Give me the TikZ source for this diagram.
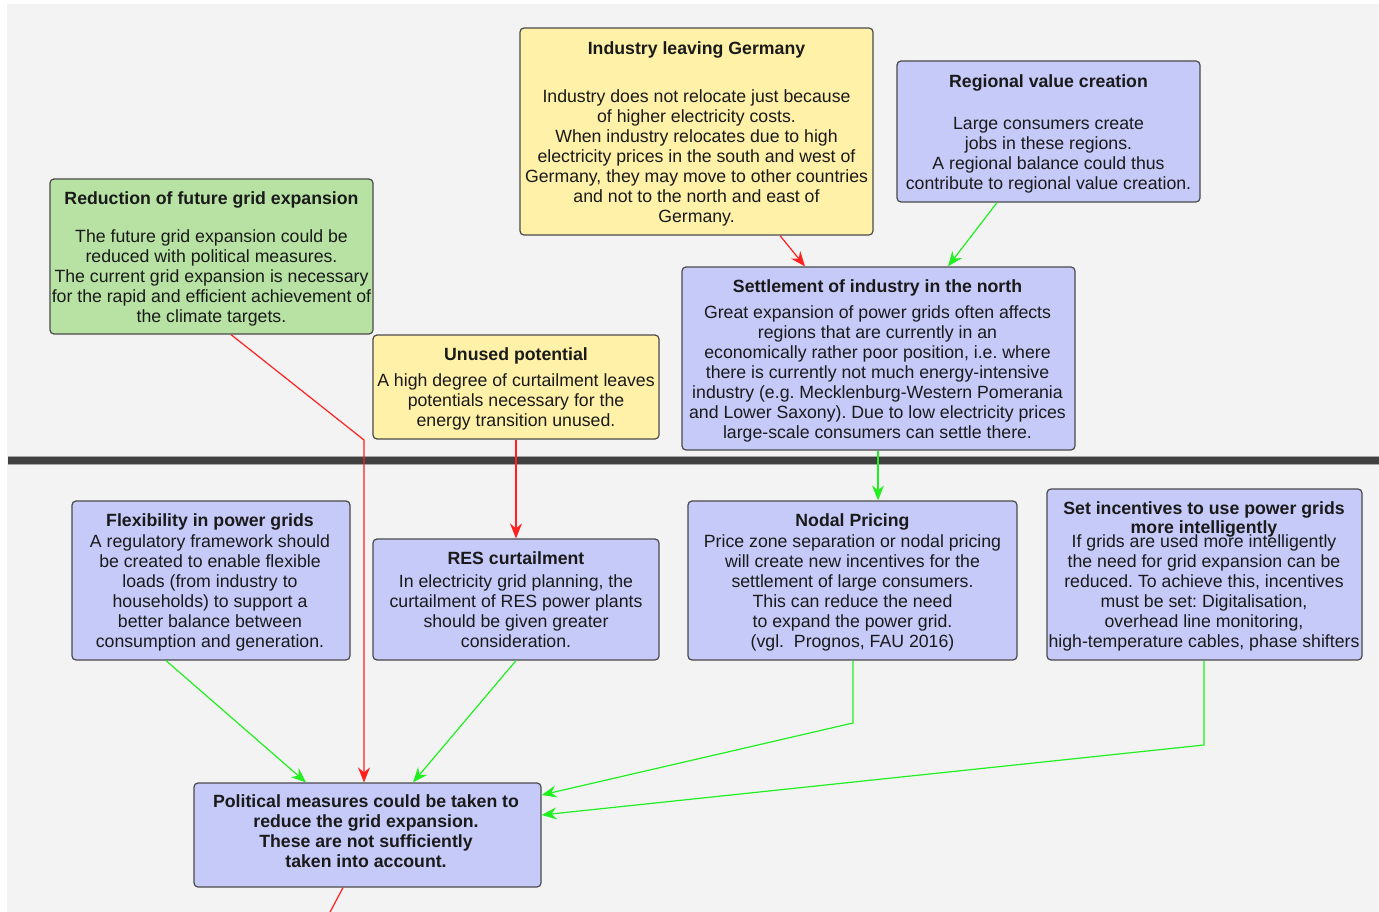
\documentclass[tikz,border=0pt]{standalone}
\usepackage{fontspec}
\setmainfont{Liberation Sans}
\usetikzlibrary{arrows.meta,calc}
\frenchspacing
\definecolor{bggray}{HTML}{F3F3F3}
\definecolor{boxgreen}{HTML}{B8E2A3}
\definecolor{boxyellow}{HTML}{FFF1A8}
\definecolor{boxblue}{HTML}{C6CAF8}
\definecolor{boxline}{HTML}{4A4A4A}
\definecolor{bar}{HTML}{404040}
\definecolor{txt}{HTML}{1A1A1A}
\definecolor{redline}{HTML}{FF2020}
\definecolor{greenline}{HTML}{20F020}
\tikzset{
  box/.style={draw=boxline, line width=1.2pt, rounded corners=4pt, inner sep=0pt},
  gbox/.style={box, fill=boxgreen},
  ybox/.style={box, fill=boxyellow},
  bbox/.style={box, fill=boxblue},
  btext/.style={inner sep=0pt, align=center, text=txt, font=\fontsize{17.7}{20}\selectfont\frenchspacing},
  tip/.style={-{Stealth[length=15pt,width=12pt,inset=5pt]}},
  redc/.style={draw=redline, line width=1.2pt},
  greenc/.style={draw=greenline, line width=1.2pt},
}
\begin{document}
\begin{tikzpicture}[x=1pt,y=-1pt]
\useasboundingbox (0,0) rectangle (1379,912);
\fill[white] (0,0) rectangle (1379,912);
\fill[bggray] (7,4) rectangle (1379,912);
\fill[bar] (8,457) rectangle (1379,464);
\draw[gray!70, line width=0.6pt] (8,456.5) -- (1379,456.5) (8,464.5) -- (1379,464.5);

\node[gbox, minimum width=323pt, minimum height=155pt] (red) at (211.5,256.5) {};
\node[btext] (redt) at (211.5,258.5)
 {\textbf{Reduction of future grid expansion}\\[18pt]
  The future grid expansion could be\\
  reduced with political measures.\\
  The current grid expansion is necessary\\
  for the rapid and efficient achievement of\\
  the climate targets.};

\node[ybox, minimum width=353pt, minimum height=207pt] (ind) at (696.5,131.5) {};
\node[btext] (indt) at (696.5,133.5)
 {\textbf{Industry leaving Germany}\\[28pt]
  Industry does not relocate just because\\
  of higher electricity costs.\\
  When industry relocates due to high\\
  electricity prices in the south and west of\\
  Germany, they may move to other countries\\
  and not to the north and east of\\
  Germany.};

\node[bbox, minimum width=303pt, minimum height=141pt] (reg) at (1048.5,131.5) {};
\node[btext] (regt) at (1048.5,133.5)
 {\textbf{Regional value creation}\\[22pt]
  Large consumers create\\
  jobs in these regions.\\
  A regional balance could thus\\
  contribute to regional value creation.};

\node[ybox, minimum width=286pt, minimum height=104pt] (unu) at (516,387) {};
\node[btext] (unut) at (516,389)
 {\textbf{Unused potential}\\[6pt]
  A high degree of curtailment leaves\\
  potentials necessary for the\\
  energy transition unused.};

\node[bbox, minimum width=393pt, minimum height=183pt] (set) at (878.5,358.5) {};
\node[btext] (sett) at (877.5,360.5)
 {\textbf{Settlement of industry in the north}\\[6pt]
  Great expansion of power grids often affects\\
  regions that are currently in an\\
  economically rather poor position, i.e. where\\
  there is currently not much energy-intensive\\
  industry (e.g. Mecklenburg-Western Pomerania\\
  and Lower Saxony). Due to low electricity prices\\
  large-scale consumers can settle there.};

\node[bbox, minimum width=278pt, minimum height=159pt] (flex) at (211,580.5) {};
\node[btext] (flext) at (210,582.5)
 {\textbf{Flexibility in power grids}\\[1pt]
  A regulatory framework should\\
  be created to enable flexible\\
  loads (from industry to\\
  households) to support a\\
  better balance between\\
  consumption and generation.};

\node[bbox, minimum width=286pt, minimum height=121pt] (res) at (516,599.5) {};
\node[btext] (rest) at (516,599.5)
 {\textbf{RES curtailment}\\[3pt]
  In electricity grid planning, the\\
  curtailment of RES power plants\\
  should be given greater\\
  consideration.};

\node[bbox, minimum width=329pt, minimum height=159pt] (nod) at (852.5,580.5) {};
\node[btext] (nodt) at (852.5,582.5)
 {\textbf{Nodal Pricing}\\[1pt]
  Price zone separation or nodal pricing\\
  will create new incentives for the\\
  settlement of large consumers.\\
  This can reduce the need\\
  to expand the power grid.\\
  (vgl.\ \ Prognos, FAU 2016)};

\node[bbox, minimum width=315pt, minimum height=171pt] (inc) at (1204.5,574.5) {};
\node[btext] (inct) at (1204,576.5)
 {\textbf{Set incentives to use power grids}\\[-1pt]
  \textbf{more intelligently}\\[-6pt]
  If grids are used more intelligently\\
  the need for grid expansion can be\\
  reduced. To achieve this, incentives\\
  must be set: Digitalisation,\\
  overhead line monitoring,\\
  high-temperature cables, phase shifters};

\node[bbox, minimum width=347pt, minimum height=104pt] (pol) at (367.5,835) {};
\node[btext, font=\fontsize{17.7}{20}\selectfont\bfseries] (polt) at (366,831)
 {Political measures could be taken to\\
  reduce the grid expansion.\\
  These are not sufficiently\\
  taken into account.};

\coordinate (redbend) at (364,440);
\coordinate (nodbend) at (853,723);
\coordinate (incbend) at (1204,745);
\coordinate (offpage) at (328,916);

% red connectors
\draw[redc, tip] (red.south -| 231,0) -- (redbend) -- (pol.north -| 364,0);
\draw[redc, tip] (unu.south) -- (res.north);
\draw[redc, tip] (ind.south -| 780,0) -- (set.north -| 805,0);
\draw[redc] (pol.south -| 343,0) -- (offpage);

% green connectors
\draw[greenc, tip] (reg.south -| 997,0) -- (set.north -| 948,0);
\draw[greenc, tip] (set.south -| 878,0) -- (nod.north -| 878,0);
\draw[greenc, tip] (flex.south -| 166,0) -- (pol.north -| 306,0);
\draw[greenc, tip] (res.south) -- (pol.north -| 413,0);
\draw[greenc, tip] (nod.south -| 853,0) -- (nodbend) -- (pol.east |- 0,795);
\draw[greenc, tip] (inc.south -| 1204,0) -- (incbend) -- (pol.east |- 0,815);
\end{tikzpicture}
\end{document}
